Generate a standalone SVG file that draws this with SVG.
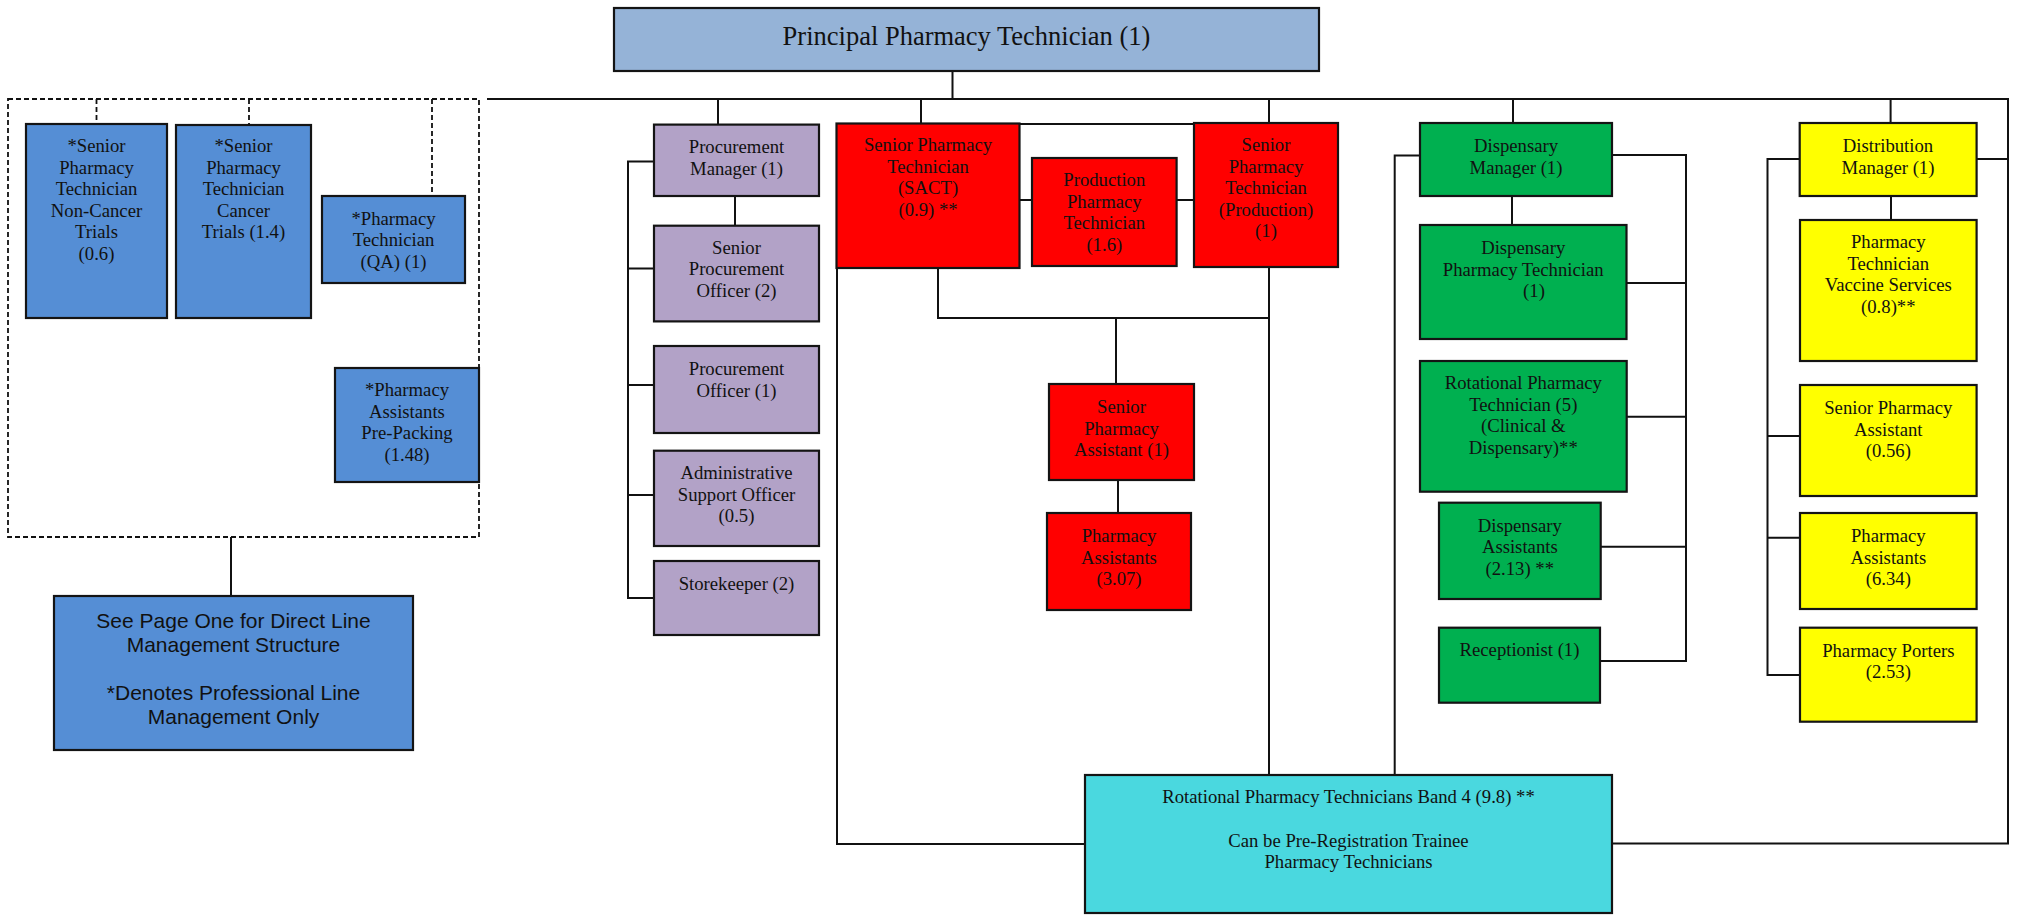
<svg xmlns="http://www.w3.org/2000/svg" width="2019" height="916" viewBox="0 0 2019 916">
<style>
.box{stroke:#141414;stroke-width:2.2}
.top{fill:#95B3D7}
.blue{fill:#558ED5}
.pur{fill:#B2A2C7}
.red{fill:#FF0000}
.grn{fill:#00B050}
.yel{fill:#FFFF00}
.cyn{fill:#4AD8DF}
.t{font-family:"Liberation Serif","Times New Roman",serif;font-size:18.7px;fill:#111;text-anchor:middle}
.title{font-family:"Liberation Serif","Times New Roman",serif;font-size:26.5px;fill:#111;text-anchor:middle}
.s{font-family:"Liberation Sans",Arial,sans-serif;font-size:21px;fill:#111;text-anchor:middle}
.ln{fill:none;stroke:#111;stroke-width:2}
.dash{fill:none;stroke:#111;stroke-width:1.8;stroke-dasharray:5 3}
</style>
<rect width="2019" height="916" fill="#fff"/>

<g id="connectors">
  <!-- dashed professional group -->
  <rect class="dash" x="8" y="99" width="471" height="438"/>
  <path class="dash" d="M96.5 99V124 M249 99V125 M432 99V196"/>
  <path class="ln" d="M231 537V596"/>
  <!-- main line -->
  <path class="ln" d="M487 99H2008V843.6H1612 M952.5 71V99"/>
  <!-- procurement -->
  <path class="ln" d="M718 99V124.6 M735 196V225.7 M654 161.4H628V598H654 M628 268.6H654 M628 385H654 M628 495H654"/>
  <!-- red -->
  <path class="ln" d="M921 99V123 M1019.5 124H1194 M1019.5 200H1032 M1176.6 200H1194 M1269 99V123 M938 268V318H1269 M1269 267V775 M1116 318V384 M1118 480V513 M837 268V844H1085"/>
  <!-- dispensary -->
  <path class="ln" d="M1513 99V123 M1512 196V225 M1420 155.5H1394.7V775 M1612 155H1686V661H1600 M1626.5 283H1686 M1626.7 416.7H1686 M1600.7 546.7H1686"/>
  <!-- distribution -->
  <path class="ln" d="M1890.6 99V123 M1891 196V220 M1800 159H1767.5V675H1800 M1767.5 436H1800 M1767.5 537.7H1800 M1976.6 159H2008"/>
</g>

<g id="principal">
  <rect class="box top" x="614" y="8" width="705" height="63"/>
  <text class="title" x="966.5" y="44.5">Principal Pharmacy Technician (1)</text>
</g>

<g id="sr-noncancer">
  <rect class="box blue" x="26" y="124" width="141" height="194"/>
  <text class="t" x="96.5" y="152">*Senior<tspan x="96.5" dy="21.5">Pharmacy</tspan><tspan x="96.5" dy="21.5">Technician</tspan><tspan x="96.5" dy="21.5">Non-Cancer</tspan><tspan x="96.5" dy="21.5">Trials</tspan><tspan x="96.5" dy="21.5">(0.6)</tspan></text>
</g>
<g id="sr-cancer">
  <rect class="box blue" x="176" y="125" width="135" height="193"/>
  <text class="t" x="243.5" y="152">*Senior<tspan x="243.5" dy="21.5">Pharmacy</tspan><tspan x="243.5" dy="21.5">Technician</tspan><tspan x="243.5" dy="21.5">Cancer</tspan><tspan x="243.5" dy="21.5">Trials (1.4)</tspan></text>
</g>
<g id="pt-qa">
  <rect class="box blue" x="322" y="196" width="143" height="87"/>
  <text class="t" x="393.5" y="224.5">*Pharmacy<tspan x="393.5" dy="21.5">Technician</tspan><tspan x="393.5" dy="21.5">(QA) (1)</tspan></text>
</g>
<g id="pa-prepacking">
  <rect class="box blue" x="335" y="368" width="144" height="114"/>
  <text class="t" x="407" y="396">*Pharmacy<tspan x="407" dy="21.5">Assistants</tspan><tspan x="407" dy="21.5">Pre-Packing</tspan><tspan x="407" dy="21.5">(1.48)</tspan></text>
</g>
<g id="legend">
  <rect class="box blue" x="54" y="596" width="359" height="154"/>
  <text class="s" x="233.5" y="628">See Page One for Direct Line<tspan x="233.5" dy="24">Management Structure</tspan><tspan x="233.5" dy="48">*Denotes Professional Line</tspan><tspan x="233.5" dy="24">Management Only</tspan></text>
</g>

<g id="procurement-manager">
  <rect class="box pur" x="654" y="124.6" width="165" height="71.4"/>
  <text class="t" x="736.5" y="153">Procurement<tspan x="736.5" dy="21.5">Manager (1)</tspan></text>
</g>
<g id="senior-procurement-officer">
  <rect class="box pur" x="654" y="225.7" width="165" height="95.7"/>
  <text class="t" x="736.5" y="253.5">Senior<tspan x="736.5" dy="21.5">Procurement</tspan><tspan x="736.5" dy="21.5">Officer (2)</tspan></text>
</g>
<g id="procurement-officer">
  <rect class="box pur" x="654" y="346" width="165" height="87"/>
  <text class="t" x="736.5" y="375">Procurement<tspan x="736.5" dy="21.5">Officer (1)</tspan></text>
</g>
<g id="admin-support">
  <rect class="box pur" x="654" y="450.7" width="165" height="95.3"/>
  <text class="t" x="736.5" y="479">Administrative<tspan x="736.5" dy="21.5">Support Officer</tspan><tspan x="736.5" dy="21.5">(0.5)</tspan></text>
</g>
<g id="storekeeper">
  <rect class="box pur" x="654" y="561" width="165" height="74"/>
  <text class="t" x="736.5" y="590">Storekeeper (2)</text>
</g>

<g id="spt-sact">
  <rect class="box red" x="836.5" y="123.5" width="183" height="144.5"/>
  <text class="t" x="928" y="151">Senior Pharmacy<tspan x="928" dy="21.5">Technician</tspan><tspan x="928" dy="21.5">(SACT)</tspan><tspan x="928" dy="21.5">(0.9) **</tspan></text>
</g>
<g id="production-pt">
  <rect class="box red" x="1032" y="158" width="144.6" height="108"/>
  <text class="t" x="1104.3" y="186">Production<tspan x="1104.3" dy="21.5">Pharmacy</tspan><tspan x="1104.3" dy="21.5">Technician</tspan><tspan x="1104.3" dy="21.5">(1.6)</tspan></text>
</g>
<g id="spt-production">
  <rect class="box red" x="1194" y="123" width="144" height="144"/>
  <text class="t" x="1266" y="151">Senior<tspan x="1266" dy="21.5">Pharmacy</tspan><tspan x="1266" dy="21.5">Technician</tspan><tspan x="1266" dy="21.5">(Production)</tspan><tspan x="1266" dy="21.5">(1)</tspan></text>
</g>
<g id="senior-pa-red">
  <rect class="box red" x="1049" y="384" width="145" height="96"/>
  <text class="t" x="1121.5" y="413">Senior<tspan x="1121.5" dy="21.5">Pharmacy</tspan><tspan x="1121.5" dy="21.5">Assistant (1)</tspan></text>
</g>
<g id="pa-red">
  <rect class="box red" x="1047" y="513" width="144" height="97"/>
  <text class="t" x="1119" y="542">Pharmacy<tspan x="1119" dy="21.5">Assistants</tspan><tspan x="1119" dy="21.5">(3.07)</tspan></text>
</g>

<g id="dispensary-manager">
  <rect class="box grn" x="1420" y="123" width="192" height="73"/>
  <text class="t" x="1516" y="152">Dispensary<tspan x="1516" dy="21.5">Manager (1)</tspan></text>
</g>
<g id="dispensary-pt">
  <rect class="box grn" x="1420" y="225" width="206.5" height="114"/>
  <text class="t" x="1523.2" y="254">Dispensary<tspan x="1523.2" dy="21.5">Pharmacy Technician</tspan><tspan x="1534" dy="21.5">(1)</tspan></text>
</g>
<g id="rotational-pt">
  <rect class="box grn" x="1420" y="361" width="206.7" height="130.7"/>
  <text class="t" x="1523.3" y="389">Rotational Pharmacy<tspan x="1523.3" dy="21.5">Technician (5)</tspan><tspan x="1523.3" dy="21.5">(Clinical &amp;</tspan><tspan x="1523.3" dy="21.5">Dispensary)**</tspan></text>
</g>
<g id="dispensary-assistants">
  <rect class="box grn" x="1439" y="502.7" width="161.7" height="96.3"/>
  <text class="t" x="1519.8" y="531.5">Dispensary<tspan x="1519.8" dy="21.5">Assistants</tspan><tspan x="1519.8" dy="21.5">(2.13) **</tspan></text>
</g>
<g id="receptionist">
  <rect class="box grn" x="1439" y="627.7" width="161" height="75"/>
  <text class="t" x="1519.5" y="656">Receptionist (1)</text>
</g>

<g id="distribution-manager">
  <rect class="box yel" x="1799.7" y="123" width="176.9" height="73"/>
  <text class="t" x="1888" y="152">Distribution<tspan x="1888" dy="21.5">Manager (1)</tspan></text>
</g>
<g id="pt-vaccine">
  <rect class="box yel" x="1800" y="220" width="176.6" height="141"/>
  <text class="t" x="1888.3" y="248">Pharmacy<tspan x="1888.3" dy="21.5">Technician</tspan><tspan x="1888.3" dy="21.5">Vaccine Services</tspan><tspan x="1888.3" dy="21.5">(0.8)**</tspan></text>
</g>
<g id="senior-pa-yel">
  <rect class="box yel" x="1800" y="385" width="176.6" height="111"/>
  <text class="t" x="1888.3" y="414">Senior Pharmacy<tspan x="1888.3" dy="21.5">Assistant</tspan><tspan x="1888.3" dy="21.5">(0.56)</tspan></text>
</g>
<g id="pa-yel">
  <rect class="box yel" x="1800" y="513" width="176.6" height="96"/>
  <text class="t" x="1888.3" y="542">Pharmacy<tspan x="1888.3" dy="21.5">Assistants</tspan><tspan x="1888.3" dy="21.5">(6.34)</tspan></text>
</g>
<g id="porters">
  <rect class="box yel" x="1800" y="627.7" width="176.6" height="94"/>
  <text class="t" x="1888.3" y="656.5">Pharmacy Porters<tspan x="1888.3" dy="21.5">(2.53)</tspan></text>
</g>

<g id="rotational-band4">
  <rect class="box cyn" x="1085" y="775" width="527" height="138"/>
  <text class="t" x="1348.5" y="803">Rotational Pharmacy Technicians Band 4 (9.8) **<tspan x="1348.5" dy="43.5">Can be Pre-Registration Trainee</tspan><tspan x="1348.5" dy="21.5">Pharmacy Technicians</tspan></text>
</g>
</svg>
